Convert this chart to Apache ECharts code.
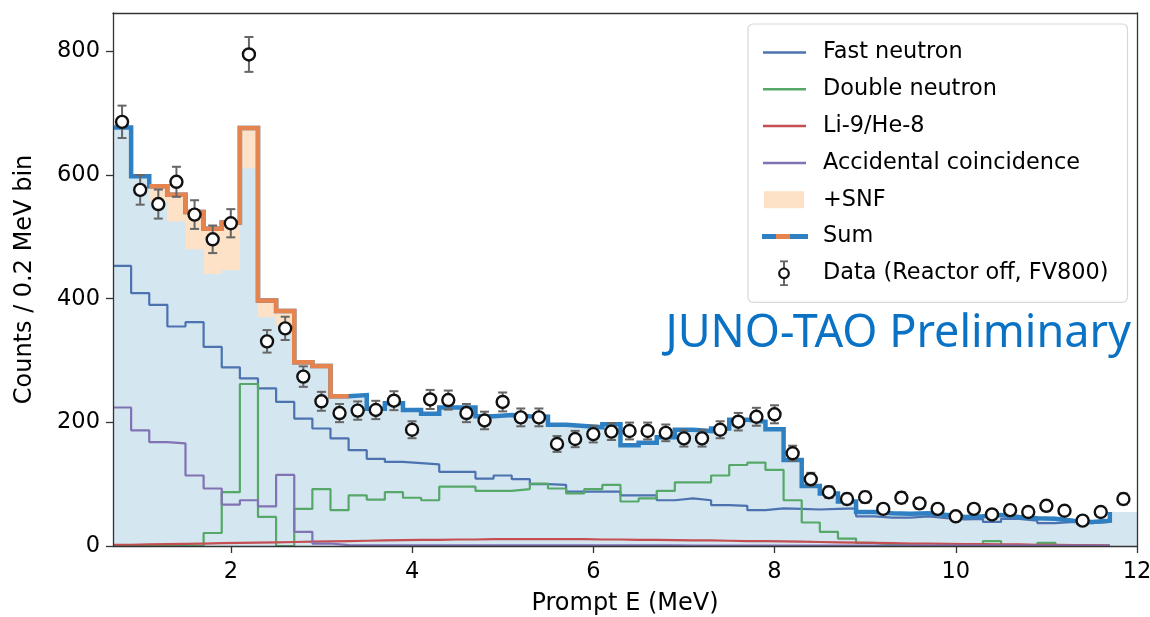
<!DOCTYPE html>
<html>
<head>
<meta charset="utf-8">
<script src="https://cdn.jsdelivr.net/npm/echarts@6/dist/echarts.min.js"></script>
<style>
html,body{margin:0;padding:0;background:#fff;}
#chart{width:1150px;height:617px;}
</style>
</head>
<body>
<div id="chart"></div>
<script>
// Bin low edges (0.2 MeV bins from 0.7 to 11.7), last partial bin 11.7-12.0
const binEdges = [0.7,0.9,1.1,1.3,1.5,1.7,1.9,2.1,2.3,2.5,2.7,2.9,3.1,3.3,3.5,3.7,3.9,4.1,4.3,4.5,4.7,4.9,5.1,5.3,5.5,5.7,5.9,6.1,6.3,6.5,6.7,6.9,7.1,7.3,7.5,7.7,7.9,8.1,8.3,8.5,8.7,8.9,9.1,9.3,9.5,9.7,9.9,10.1,10.3,10.5,10.7,10.9,11.1,11.3,11.5,11.7,12.0];

// Component histograms (55 bins, 0.7 - 11.7 MeV)
const fastNeutron = [453,409,390,355,362,322,289,271,255,233,206,190,174,155,141,136,134,132,120,120,109,114,108,100,99,88,88,88,82,82,74,77,74,66,65,58,61,60,59,60,61,48,46,46,48,45,43,44,39,44,41,37,39,37,39];
const doubleNeutron = [0,0,0,0,0,21,87,262,47,0,60,92,58,82,75,87,78,74,96,96,89,89,92,101,93,85,92,99,72,77,89,103,103,114,131,135,123,74,38,23,12,5,2,1,0,1,0,0,8,0,1,5,0,0,0];
const li9He8 = [2,2.5,3,3.5,4,4.5,5,5.5,6,6.5,7,7.5,8,8.5,9,9.5,10,10,10.5,10.5,11,11,11,11,11,11,10.5,10.5,10,10,9.5,9,9,8.5,8,8,7.5,7,6.5,6,5.5,5,4.5,4,4,3.5,3,3,2.5,2.5,2,2,1.5,1.5,1];
const accidental = [224,187,168,166,114,93,67,74,64,115,23,4,1.5,1,1,1,1,1,1,1,1,1,1,1,1,1,1,1,1,1,1,0.5,0.5,0.5,0.5,0.5,0.5,0.5,0.5,0.5,0.5,0.5,0.5,0.5,0.5,0.5,0.5,0.5,0.5,0.5,0.5,0.5,0.5,0.5,0.5];

// Sum (including SNF), 56 bins (last = 11.7-12.0 bin)
const sumTotal = [677,598,582,568,540,513,523,676,397,380,297,291,242,244,222,231,220,214,224,224,210,212,210,209,196,194,192,197,163,167,176,188,186,190,204,201,189,139,97,85,72,55,53,52,53,50,47,48,50,47,45,44,41,39,41,55];
// SNF contribution per bin
const snf = [0,0,25,43,60,73,77,65,27,23,4,4,3,0,0,0,0,0,0,0,0,0,0,0,0,0,0,0,0,0,0,0,0,0,0,0,0,0,0,0,0,0,0,0,0,0,0,0,0,0,0,0,0,0,0,0];

// Data points (reactor off, FV800)
const dataE = [0.8,1.0,1.2,1.4,1.6,1.8,2.0,2.2,2.4,2.6,2.8,3.0,3.2,3.4,3.6,3.8,4.0,4.2,4.4,4.6,4.8,5.0,5.2,5.4,5.6,5.8,6.0,6.2,6.4,6.6,6.8,7.0,7.2,7.4,7.6,7.8,8.0,8.2,8.4,8.6,8.8,9.0,9.2,9.4,9.6,9.8,10.0,10.2,10.4,10.6,10.8,11.0,11.2,11.4,11.6,11.85];
const dataCounts = [686,576,553,589,536,496,522,795,331,352,274,234,215,219,220,235,188,237,236,215,203,233,208,208,165,173,181,185,186,186,183,174,174,188,201,209,213,150,108,87,76,79,60,78,69,60,48,60,51,58,55,65,57,41,55,76];
const dataErr = [26.2,24.0,23.5,24.3,23.2,22.3,22.8,28.2,18.2,18.8,16.6,15.3,14.7,14.8,14.8,15.3,13.7,15.4,15.4,14.7,14.2,15.3,14.4,14.4,12.8,13.2,13.5,13.6,13.6,13.6,13.5,13.2,13.2,13.7,14.2,14.5,14.6,12.2,10.4,9.3,8.7,8.9,7.7,8.8,8.3,7.7,6.9,7.7,7.1,7.6,7.4,8.1,7.5,6.4,7.4,8.7];

const xTicks = [2,4,6,8,10,12];
const yTicks = [0,200,400,600,800];

const FONT = 'DejaVu Sans';

// step helpers: points at bin low edges, trailing point at the next edge
function stepPts(vals, start, end, trailing) {
  const pts = [];
  for (let i = start; i < end; i++) pts.push([binEdges[i], vals[i]]);
  if (trailing) pts.push([binEdges[end], vals[end - 1]]);
  return pts;
}

const bg = sumTotal.map((v, i) => v - snf[i]);

function svgIcon(inner) {
  const s = '<svg xmlns="http://www.w3.org/2000/svg" width="56" height="26" viewBox="0 0 56 26">' + inner + '</svg>';
  return 'image://data:image/svg+xml;charset=utf-8,' + encodeURIComponent(s);
}
function lineIcon(c) {
  return svgIcon('<line x1="1" y1="13" x2="44" y2="13" stroke="' + c + '" stroke-width="2.5"/>');
}

const C_FAST = '#4c72b0', C_DN = '#55a868', C_LI = '#c44e52', C_ACC = '#8172b3';
const C_SUM = '#2f80c2', C_SUMSNF = '#e5844e', C_BG = '#d4e6f0', C_SNF = '#fde2c8';

const chart = echarts.init(document.getElementById('chart'), null, {renderer: 'canvas'});

const compLine = (name, vals, color) => ({
  name, type: 'line', step: 'end', showSymbol: false, symbol: 'none',
  data: stepPts(vals, 0, 55, true),
  lineStyle: {color, width: 2.2}, itemStyle: {color}, z: 4, silent: true
});

const option = {
  backgroundColor: '#fff',
  animation: false,
  textStyle: {fontFamily: FONT},
  grid: {left: 113, right: 13, top: 13, bottom: 71, containLabel: false, outerBoundsMode: 'none'},
  legend: {
    orient: 'vertical', left: 748, top: 24,
    padding: [15.5, 19, 16, 14],
    itemWidth: 56, itemHeight: 26, itemGap: 10.8,
    selectedMode: false,
    backgroundColor: 'rgba(255,255,255,0.85)',
    borderColor: '#d8d8d8', borderWidth: 1.2, borderRadius: 5,
    textStyle: {fontSize: 22.4, fontFamily: FONT, color: '#000', lineHeight: 26},
    data: [
      {name: 'Fast neutron', icon: lineIcon(C_FAST)},
      {name: 'Double neutron', icon: lineIcon(C_DN)},
      {name: 'Li-9/He-8', icon: lineIcon(C_LI)},
      {name: 'Accidental coincidence', icon: lineIcon(C_ACC)},
      {name: '+SNF', icon: svgIcon('<rect x="2" y="4.5" width="40" height="17" fill="' + C_SNF + '"/>')},
      {name: 'Sum', icon: svgIcon('<line x1="0" y1="13" x2="14" y2="13" stroke="' + C_SUM + '" stroke-width="5"/><line x1="14" y1="13" x2="27.5" y2="13" stroke="' + C_SUMSNF + '" stroke-width="5"/><line x1="27.5" y1="13" x2="46" y2="13" stroke="' + C_SUM + '" stroke-width="5"/>')},
      {name: 'Data (Reactor off, FV800)', icon: svgIcon('<line x1="22" y1="1" x2="22" y2="25" stroke="#666" stroke-width="2"/><line x1="18" y1="1" x2="26" y2="1" stroke="#666" stroke-width="2"/><line x1="18" y1="25" x2="26" y2="25" stroke="#666" stroke-width="2"/><circle cx="22" cy="13" r="4.8" fill="#fff" stroke="#111" stroke-width="2.2"/>')}
    ]
  },
  xAxis: [{
    type: 'value', min: 0.7, max: 12, position: 'bottom', z: 10,
    axisLine: {show: true, onZero: false, lineStyle: {color: '#333', width: 1.3}},
    axisTick: {show: true, length: 7, customValues: xTicks, lineStyle: {color: '#333', width: 1.3}},
    axisLabel: {customValues: xTicks, fontSize: 22.5, color: '#000', margin: 15, fontFamily: FONT},
    splitLine: {show: false},
    name: 'Prompt E (MeV)', nameLocation: 'middle', nameGap: 46,
    nameTextStyle: {fontSize: 24, color: '#000', fontFamily: FONT}
  }, {
    type: 'value', min: 0.7, max: 12, position: 'top', z: 10,
    axisLine: {show: true, onZero: false, lineStyle: {color: '#333', width: 1.3}},
    axisTick: {show: false}, axisLabel: {show: false}, splitLine: {show: false}
  }],
  yAxis: [{
    type: 'value', min: 0, max: 862, position: 'left', z: 10,
    axisLine: {show: true, onZero: false, lineStyle: {color: '#333', width: 1.3}},
    axisTick: {show: true, length: 7, customValues: yTicks, lineStyle: {color: '#333', width: 1.3}},
    axisLabel: {customValues: yTicks, fontSize: 22.5, color: '#000', margin: 13, fontFamily: FONT},
    splitLine: {show: false},
    name: 'Counts / 0.2 MeV bin', nameLocation: 'middle', nameGap: 76,
    nameTextStyle: {fontSize: 24, color: '#000', fontFamily: FONT}
  }, {
    type: 'value', min: 0, max: 862, position: 'right', z: 10,
    axisLine: {show: true, onZero: false, lineStyle: {color: '#333', width: 1.3}},
    axisTick: {show: false}, axisLabel: {show: false}, splitLine: {show: false}
  }],
  graphic: [{
    type: 'text', z: 20,
    style: {
      text: 'JUNO-TAO Preliminary', x: 1131, y: 357,
      font: '45px "Noto Sans"', fill: '#0a72c4',
      textAlign: 'right', textVerticalAlign: 'bottom'
    }
  }],
  series: [
    {
      name: '+SNF', type: 'line', step: 'end', showSymbol: false, symbol: 'none', silent: true,
      data: stepPts(sumTotal, 0, 56, true),
      lineStyle: {width: 0, color: C_SNF}, itemStyle: {color: C_SNF},
      areaStyle: {color: C_SNF, opacity: 1, origin: 'start'}, z: 1
    },
    {
      name: 'bg', type: 'line', step: 'end', showSymbol: false, symbol: 'none', silent: true,
      data: stepPts(bg, 0, 56, true),
      lineStyle: {width: 0, color: C_BG}, itemStyle: {color: C_BG},
      areaStyle: {color: C_BG, opacity: 1, origin: 'start'}, z: 2
    },
    compLine('Fast neutron', fastNeutron, C_FAST),
    compLine('Double neutron', doubleNeutron, C_DN),
    compLine('Li-9/He-8', li9He8, C_LI),
    compLine('Accidental coincidence', accidental, C_ACC),
    {
      name: 'Sum', type: 'line', step: 'end', showSymbol: false, symbol: 'none', silent: true,
      data: stepPts(sumTotal, 0, 56, false),
      lineStyle: {color: C_SUM, width: 4.5, join: 'miter'}, itemStyle: {color: C_SUM}, z: 5
    },
    {
      name: 'SumSNF', type: 'line', step: 'end', showSymbol: false, symbol: 'none', silent: true,
      data: stepPts(sumTotal, 2, 13, true),
      lineStyle: {color: C_SUMSNF, width: 4.5, join: 'miter'}, itemStyle: {color: C_SUMSNF}, z: 6
    },
    {
      name: 'errbars', type: 'custom', silent: true, z: 7,
      data: dataE.map((e, i) => [e, dataCounts[i], dataErr[i]]),
      renderItem: function (params, api) {
        const x = api.value(0), y = api.value(1), er = api.value(2);
        const top = api.coord([x, y + er]);
        const bot = api.coord([x, y - er]);
        const w = 4.5;
        const st = {stroke: '#666', lineWidth: 2};
        return {
          type: 'group',
          children: [
            {type: 'line', shape: {x1: top[0], y1: top[1], x2: bot[0], y2: bot[1]}, style: st},
            {type: 'line', shape: {x1: top[0] - w, y1: top[1], x2: top[0] + w, y2: top[1]}, style: st},
            {type: 'line', shape: {x1: bot[0] - w, y1: bot[1], x2: bot[0] + w, y2: bot[1]}, style: st}
          ]
        };
      }
    },
    {
      name: 'Data (Reactor off, FV800)', type: 'scatter', silent: true, z: 8,
      data: dataE.map((e, i) => [e, dataCounts[i]]),
      symbol: 'circle', symbolSize: 12,
      itemStyle: {color: '#fff', borderColor: '#111', borderWidth: 2.4, opacity: 1}
    }
  ]
};

chart.setOption(option);
</script>
</body>
</html>
